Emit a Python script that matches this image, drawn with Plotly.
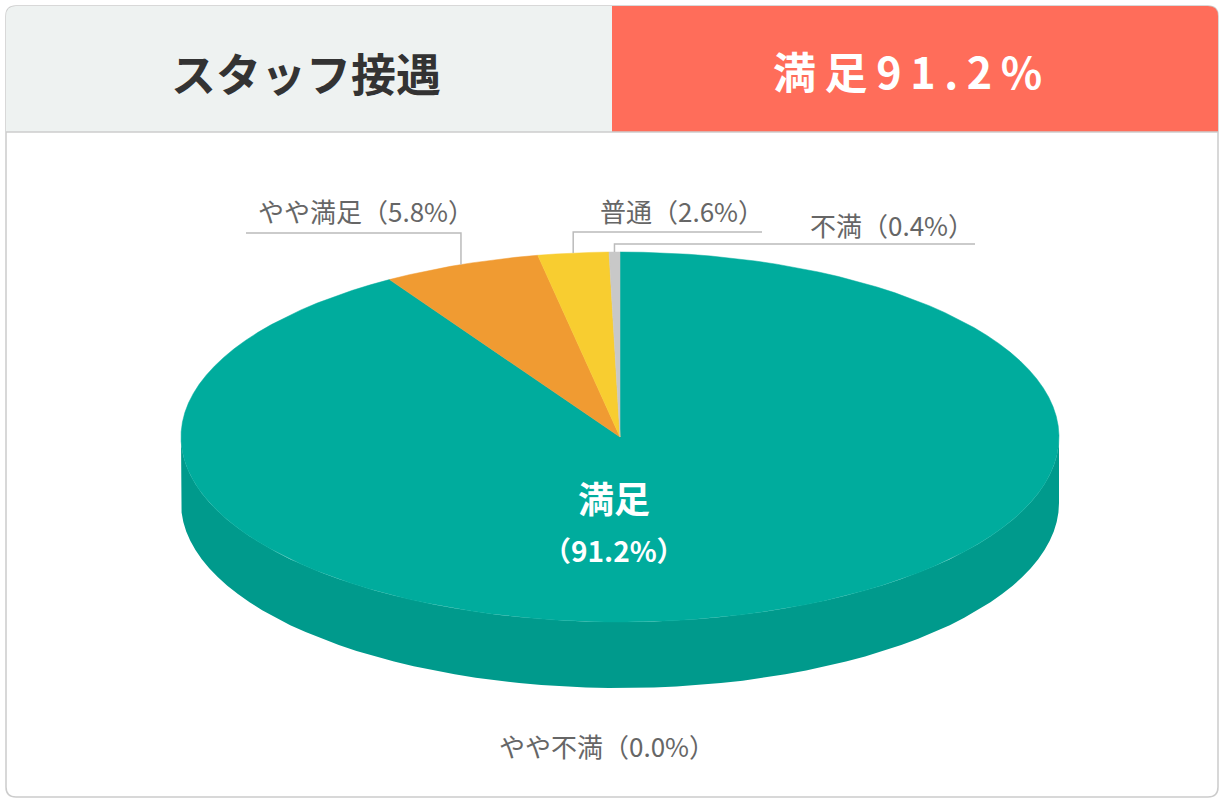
import numpy as np
import plotly.graph_objects as go

# Data
labels = ['満足', 'やや満足', '普通', 'やや不満', '不満']
values = [91.2, 5.8, 2.6, 0.0, 0.4]
colors = ['#00AC9D', '#F09B32', '#F8CD30', '#E0E0E0', '#C8C8C8']
side_colors = ['#009A8C', '#D88A2B', '#DDB62A', '#C8C8C8', '#B0B0B0']
header_title = 'スタッフ接遇'
header_value = '満足91.2%'

# Geometry (pixel space)
W, H = 1226, 801
CX, CY, RX, RY, DEPTH = 620, 437, 439, 185, 66
FONT = 'Noto Sans CJK JP'

# label layout: horizontal leader y, leader end x, text centre
label_layout = {
    'やや満足': dict(ly=233, lx=246, tx=366, ty=210),
    '普通': dict(ly=232, lx=762, tx=682, ty=210),
    '不満': dict(ly=244, lx=975, tx=892, ty=224),
}


def ellipse_pts(t0, t1, cy, n=120):
    t = np.radians(np.linspace(t0, t1, max(2, int(n * (t1 - t0) / 360) + 2)))
    return CX + RX * np.sin(t), cy - RY * np.cos(t)


fig = go.Figure()

total = sum(values)
angles = np.concatenate([[0], np.cumsum(values) / total * 360])

# side walls (only front half, 90..270 deg clockwise from top, is visible)
for i, lab in enumerate(labels):
    a0, a1 = max(angles[i], 90), min(angles[i + 1], 270)
    if a1 <= a0:
        continue
    xt, yt = ellipse_pts(a0, a1, CY)
    xb, yb = ellipse_pts(a0, a1, CY + DEPTH)
    fig.add_trace(go.Scatter(
        x=np.concatenate([xt, xb[::-1]]), y=np.concatenate([yt, yb[::-1]]),
        fill='toself', fillcolor=side_colors[i], mode='lines',
        line=dict(width=0, color=side_colors[i]), hoverinfo='skip', showlegend=False))

# top face slices
for i, lab in enumerate(labels):
    if values[i] <= 0:
        continue
    xs, ys = ellipse_pts(angles[i], angles[i + 1], CY)
    fig.add_trace(go.Scatter(
        x=np.concatenate([[CX], xs, [CX]]), y=np.concatenate([[CY], ys, [CY]]),
        fill='toself', fillcolor=colors[i], mode='lines',
        line=dict(width=0.5, color=colors[i]), hoverinfo='skip', showlegend=False))

# leader lines and outside labels
for i, lab in enumerate(labels):
    txt = f'{lab}（{values[i]:.1f}%）'
    if lab in label_layout:
        cfg = label_layout[lab]
        mid = np.radians((angles[i] + angles[i + 1]) / 2)
        px = CX + RX * np.sin(mid)
        py = CY - RY * np.cos(mid)
        fig.add_trace(go.Scatter(
            x=[px, px, cfg['lx']], y=[py, cfg['ly'], cfg['ly']], mode='lines',
            line=dict(color='#BBBBBB', width=1.5), hoverinfo='skip', showlegend=False))
        fig.add_annotation(x=cfg['tx'], y=cfg['ty'], text=txt, showarrow=False,
                           font=dict(family=FONT, size=26, color='#666666'))
    elif values[i] == 0:
        fig.add_annotation(x=607, y=745, text=txt, showarrow=False,
                           font=dict(family=FONT, size=26, color='#666666'))

# main slice label
fig.add_annotation(x=614, y=497, text=labels[0], showarrow=False,
                   font=dict(family=FONT, size=36, color='white', weight=700))
fig.add_annotation(x=614, y=550, text=f'（{values[0]:.1f}%）', showarrow=False,
                   font=dict(family=FONT, size=28, color='white', weight=700))

# frame and header
r = 10
frame = (f'M {6+r},6 L {1218-r},6 Q 1218,6 1218,{6+r} L 1218,{797-r} Q 1218,797 {1218-r},797 '
         f'L {6+r},797 Q 6,797 6,{797-r} L 6,{6+r} Q 6,6 {6+r},6 Z')
left_head = f'M {6+r},6 L 612,6 L 612,132 L 6,132 L 6,{6+r} Q 6,6 {6+r},6 Z'
right_head = f'M 612,6 L {1218-r},6 Q 1218,6 1218,{6+r} L 1218,132 L 612,132 Z'
shapes = [
    dict(type='path', path=frame, xref='x', yref='y', fillcolor='white',
         line=dict(color='#CCCCCC', width=1.5), layer='below'),
    dict(type='path', path=left_head, xref='x', yref='y', fillcolor='#EEF2F1',
         line=dict(width=0), layer='below'),
    dict(type='path', path=right_head, xref='x', yref='y', fillcolor='#FF6D5A',
         line=dict(width=0), layer='below'),
    dict(type='line', x0=6, x1=1218, y0=132, y1=132, xref='x', yref='y',
         line=dict(color='#CCCCCC', width=1.5), layer='below'),
]

fig.add_annotation(x=306, y=72, text=header_title, showarrow=False,
                   font=dict(family=FONT, size=45, color='#333333', weight=700))
fig.add_annotation(x=907, y=70, text='\u2009'.join(header_value), showarrow=False,
                   font=dict(family=FONT, size=43, color='white', weight=700))

fig.update_layout(
    width=W, height=H, margin=dict(l=0, r=0, t=0, b=0),
    paper_bgcolor='white', plot_bgcolor='white',
    xaxis=dict(range=[0, W], visible=False, fixedrange=True),
    yaxis=dict(range=[H, 0], visible=False, fixedrange=True),
    shapes=shapes,
)

fig.write_html('out.html', config={'displayModeBar': False},
               post_script="document.body.style.margin='0';document.body.style.overflow='hidden';")
